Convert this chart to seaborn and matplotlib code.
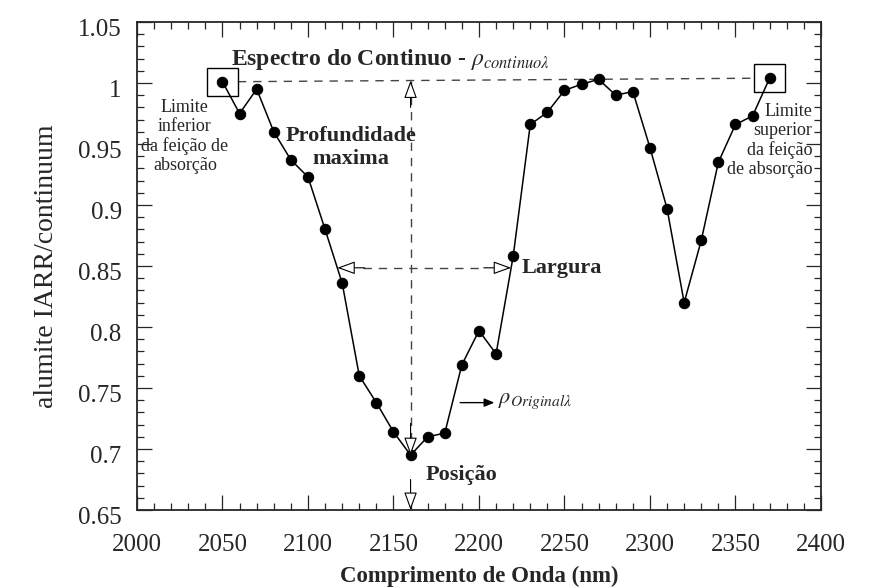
import numpy as np
import pandas as pd
import matplotlib
matplotlib.use("Agg")
import matplotlib.pyplot as plt
from matplotlib.patches import Rectangle
from matplotlib.ticker import MultipleLocator
from matplotlib.transforms import ScaledTranslation
import seaborn as sns

# Continuum-removed alunite spectrum around the 2160 nm absorption feature
wavelength = [2050, 2060, 2070, 2080, 2090, 2100, 2110, 2120, 2130, 2140, 2150,
              2160, 2170, 2180, 2190, 2200, 2210, 2220, 2230, 2240, 2250, 2260,
              2270, 2280, 2290, 2300, 2310, 2320, 2330, 2340, 2350, 2360, 2370]
reflectance = [1.001, 0.975, 0.995, 0.960, 0.937, 0.923, 0.880, 0.836, 0.760,
               0.738, 0.714, 0.695, 0.710, 0.713, 0.769, 0.797, 0.778, 0.858,
               0.966, 0.976, 0.994, 0.999, 1.003, 0.990, 0.993, 0.947, 0.897,
               0.820, 0.871, 0.935, 0.966, 0.973, 1.004]

x_ticks = [2000, 2050, 2100, 2150, 2200, 2250, 2300, 2350, 2400]
y_ticks = [0.65, 0.70, 0.75, 0.80, 0.85, 0.90, 0.95, 1.00, 1.05]
y_tick_labels = ["0.65", "0.7", "0.75", "0.8", "0.85", "0.9", "0.95", "1", "1.05"]

df = pd.DataFrame({"wl": wavelength, "r": reflectance})

sns.set_style("ticks")
plt.rcParams["font.family"] = ["Liberation Serif", "DejaVu Serif"]
plt.rcParams["mathtext.fontset"] = "stix"

fig = plt.figure(figsize=(8.77, 5.87), dpi=100)
ax = fig.add_axes([0.1562, 0.1312, 0.7799, 0.8313])

sns.lineplot(data=df, x="wl", y="r", ax=ax, color="black", linewidth=1.1,
             marker="o", markersize=7.5, markerfacecolor="black",
             markeredgecolor="black", zorder=5)

ax.set_xlim(2000, 2400)
ax.set_ylim(0.65, 1.05)
ax.set_xticks(x_ticks)
ax.set_yticks(y_ticks)
ax.set_yticklabels(y_tick_labels)
ax.xaxis.set_minor_locator(MultipleLocator(10))
ax.yaxis.set_minor_locator(MultipleLocator(0.01))
ax.tick_params(which="both", direction="in", top=True, right=True, width=0.9,
               labelsize=18)
ax.tick_params(which="major", length=11)
ax.tick_params(which="minor", length=5)
ax.tick_params(axis="x", pad=17)
ax.tick_params(axis="y", pad=11)
for s in ax.spines.values():
    s.set_linewidth(1.3)
    s.set_visible(True)

# nudge the y tick labels slightly downward
shift = ScaledTranslation(0, -4 / 72, fig.dpi_scale_trans)
for lab in ax.get_yticklabels():
    lab.set_transform(lab.get_transform() + shift)

ax.set_xlabel("Comprimento de Onda (nm)", fontsize=16.5, fontweight="bold",
              labelpad=7)
ax.set_ylabel("alumite IARR/continuum", fontsize=20, labelpad=14)

wl = np.array(wavelength, dtype=float)
r = np.array(reflectance)

# continuum line between the two shoulders
box_w, box_h = 18, 0.023
for i in (0, -1):
    ax.add_patch(Rectangle((wl[i] - box_w / 2, r[i] - box_h / 2), box_w, box_h,
                           fill=False, edgecolor="black", lw=1.0, zorder=6))
cont_x = np.array([wl[0] + box_w / 2, wl[-1] - box_w / 2])
cont_y = np.interp(cont_x, [wl[0], wl[-1]], [r[0], r[-1]])
ax.plot(cont_x, cont_y, ls=(0, (6, 5)), color="#444444", lw=1.0, zorder=2)

# band depth at the minimum
imin = int(np.argmin(r))
pos, rmin = wl[imin], r[imin]
cont_at_pos = np.interp(pos, [wl[0], wl[-1]], [r[0], r[-1]])
ax.plot([pos, pos], [cont_at_pos, rmin], ls=(0, (6, 5)), color="#444444",
        lw=1.0, zorder=2)

head = dict(arrowstyle="-|>,head_length=1.1,head_width=0.4", fc="white",
            ec="black", lw=0.8, shrinkA=0, shrinkB=0)
ax.annotate("", xy=(pos, cont_at_pos), xytext=(pos, cont_at_pos - 0.022),
            arrowprops=head, zorder=7)
ax.annotate("", xy=(pos, rmin), xytext=(pos, rmin + 0.026),
            arrowprops=head, zorder=7)

# position of the minimum on the wavelength axis
ax.annotate("", xy=(pos, 0.65), xytext=(pos, 0.675), arrowprops=head, zorder=7)
ax.text(pos + 9, 0.679, "Posição", fontsize=16, fontweight="bold",
        ha="left", va="center")

# full width at half depth
half = (cont_at_pos + rmin) / 2
left = np.interp(half, r[:imin + 1][::-1], wl[:imin + 1][::-1])
right_r, right_wl = r[imin:], wl[imin:]
k = int(np.argmax(right_r >= half))
right = np.interp(half, [right_r[k - 1], right_r[k]], [right_wl[k - 1], right_wl[k]])
ax.plot([left + 15, right - 15], [half, half], ls=(0, (6, 5)), color="#444444",
        lw=1.0, zorder=2)
ax.annotate("", xy=(left, half), xytext=(left + 16, half), arrowprops=head, zorder=7)
ax.annotate("", xy=(right, half), xytext=(right - 16, half), arrowprops=head, zorder=7)
ax.text(right + 6, half, "Largura", fontsize=16, fontweight="bold",
        ha="left", va="center")

ax.text(2055, 1.019, r"Espectro do Continuo - $\rho_{continuo\lambda}$",
        fontsize=17, fontweight="bold", ha="left", va="center")
ax.text(2125, 0.947, "Profundidade\nmaxima", fontsize=16, fontweight="bold",
        ha="center", va="center", linespacing=1.2)
ax.text(2028, 0.956, "Limite\ninferior\nda feição de\nabsorção", fontsize=13,
        ha="center", va="center", linespacing=1.15)
ax.text(2395, 0.953, "Limite\nsuperior\nda feição\nde absorção", fontsize=13,
        ha="right", va="center", linespacing=1.15)

ax.annotate("", xy=(2209, 0.738), xytext=(2189, 0.738),
            arrowprops=dict(arrowstyle="-|>,head_length=0.6,head_width=0.25",
                            fc="black", ec="black", lw=1.0,
                            shrinkA=0, shrinkB=0))
ax.text(2211, 0.739, r"$\rho_{Original\lambda}$", fontsize=16,
        ha="left", va="center")

fig.savefig("out.png", dpi=100)
